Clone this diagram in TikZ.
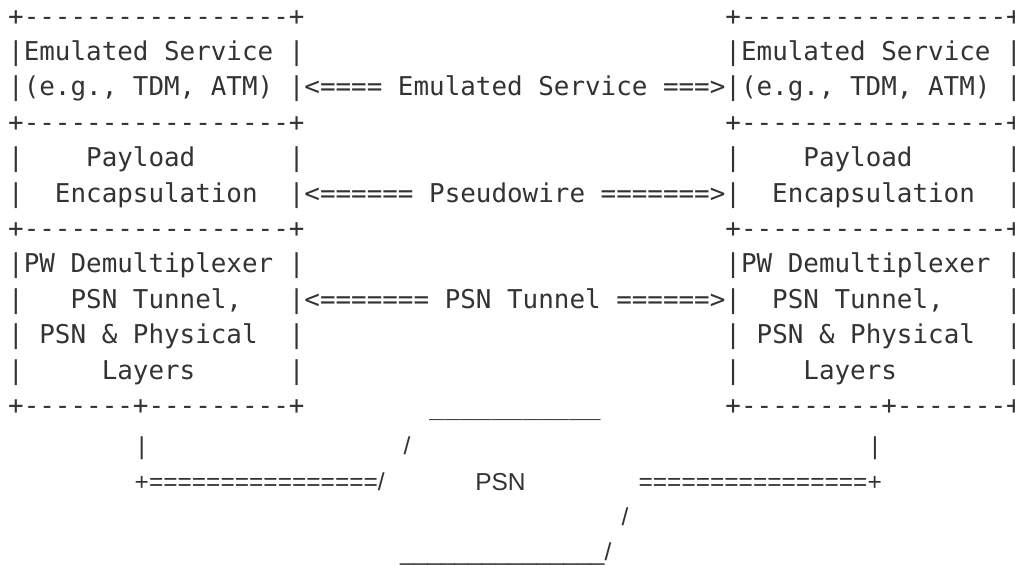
\documentclass[tikz,border=0pt]{standalone}
\usepackage{fontspec}
\setmonofont{DejaVu Sans Mono}
\setsansfont{Liberation Sans}
\definecolor{ink}{HTML}{333333}
\newcommand\gap[1]{\hspace*{#1\fontdimen2\font}}
\tikzset{
  asciirow/.style={font=\ttfamily\fontsize{25.9}{30}\selectfont, text=ink, inner sep=0pt, anchor=base west},
  psnbit/.style={font=\sffamily\fontsize{24.5}{30}\selectfont, text=ink, inner sep=0pt, anchor=base},
}
\begin{document}
\begin{tikzpicture}[x=1pt,y=-1pt]
  \useasboundingbox (0,0) rectangle (1015,565);
  \clip (0,0) rectangle (1015,565);
  % the two protocol stacks, one text row each
  \foreach \txt [count=\i from 0] in {
    {+-----------------+\gap{27}+-----------------+},
    {|Emulated~Service~|\gap{27}|Emulated~Service~|},
    {|(e.g.,~TDM,~ATM)~|<====~Emulated~Service~===>|(e.g.,~TDM,~ATM)~|},
    {+-----------------+\gap{27}+-----------------+},
    {|\gap{4}Payload\gap{6}|\gap{27}|\gap{4}Payload\gap{6}|},
    {|~~Encapsulation~~|<======~Pseudowire~=======>|~~Encapsulation~~|},
    {+-----------------+\gap{27}+-----------------+},
    {|PW~Demultiplexer~|\gap{27}|PW~Demultiplexer~|},
    {|~~~PSN~Tunnel,~~~|<=======~PSN~Tunnel~======>|~~PSN~Tunnel,\gap{4}|},
    {|~PSN~\&~Physical~~|\gap{27}|~PSN~\&~Physical~~|},
    {|\gap{5}Layers\gap{6}|\gap{27}|\gap{4}Layers\gap{7}|},
    {+-------+---------+\gap{8}\_\_\_\_\_\_\_\_\_\_\_\gap{8}+---------+-------+}}
    \node[asciirow] (r\i) at (8,25+35.4*\i) {\txt};
  % the PSN cloud underneath
  \node[psnbit] (linkl) at (141.7,454.6) {|};
  \node[psnbit] (cloudtl) at (407,454.6) {/};
  \node[psnbit] (linkr) at (875,454.6) {|};
  \node[psnbit, anchor=base west] (pwl) at (134.5,490) {+================/};
  \node[psnbit] (psn) at (500.5,490) {PSN};
  \node[psnbit, anchor=base east] (pwr) at (882,490) {================+};
  \node[psnbit] (cloudbr) at (625,525.4) {/};
  \node[psnbit, anchor=base west] (cloudb) at (400,560.8) {\_\_\_\_\_\_\_\_\_\_\_\_\_\_\_/};
\end{tikzpicture}
\end{document}
